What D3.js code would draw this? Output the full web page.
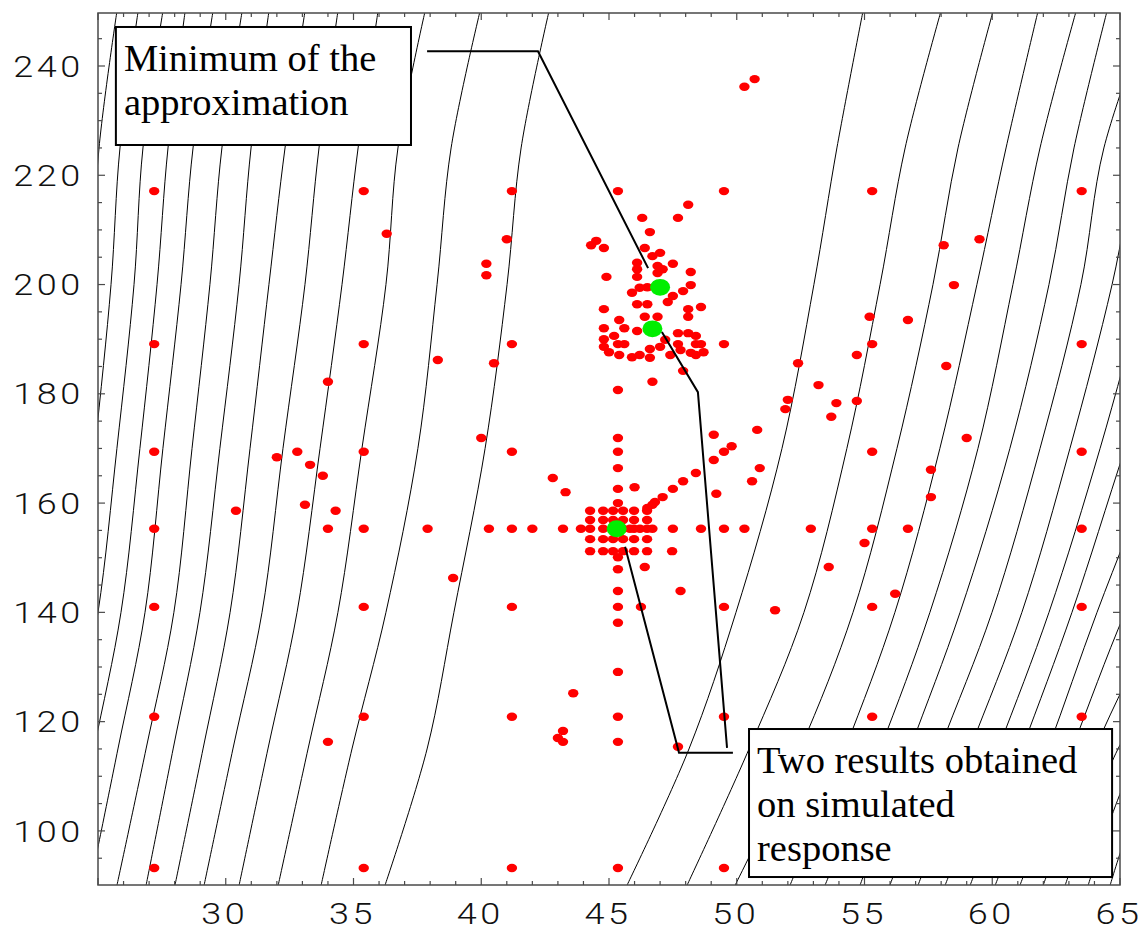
<!DOCTYPE html>
<html>
<head>
<meta charset="utf-8">
<script src="https://cdn.jsdelivr.net/npm/d3@7"></script>
<style>
  body { margin: 0; background: #fff; }
  svg { display: block; }
</style>
</head>
<body>
<svg id="chart" width="1148" height="931"></svg>
<script>
// ---- plot range -------------------------------------------------------
const X_MIN = 25, X_MAX = 65;
const Y_MIN = 90.1, Y_MAX = 249.7;

// ---- tick labels ------------------------------------------------------
const xTickLabels = [30, 35, 40, 45, 50, 55, 60, 65];
const yTickLabels = [100, 120, 140, 160, 180, 200, 220, 240];

// ---- experimental design: 7 x 7 grid ------------------------------------
const gridX = [27.2, 35.4, 41.2, 45.35, 49.5, 55.3, 63.5];
const gridY = [217.1, 189.1, 169.4, 155.3, 141.0, 120.9, 93.2];

// points along the horizontal line through the centre (y = 155.3)
const axialRowY = 155.3;
const axialRowX = [34.0, 37.9, 40.3, 42.0, 43.2, 43.9, 46.7, 47.5, 48.6, 50.3, 52.9, 56.7];

// points along the vertical line through the centre (x = 45.35)
const axialColX = 45.35;
const axialColY = [180.7, 171.9, 166.4, 162.6, 160.0, 150.1, 147.9, 143.9, 138.1, 129.1, 116.3];

// dense local grid around the lower minimum
const clusterX = [44.26, 44.77, 45.16, 45.55, 45.98, 46.49];
const clusterY = [158.6, 156.9, 155.3, 153.4, 151.2];

// remaining evaluated points
const scatterPoints = [
  [36.3,209.3],[50.7,237.6],[50.3,236.2],[48.1,214.6],[46.3,212.2],[47.7,212.2],[46.6,209.6],
  [41.0,208.3],[44.3,207.2],[44.5,208.0],[44.8,206.7],[46.4,206.7],[46.7,205.2],[47.0,205.8],
  [40.2,203.8],[40.2,201.7],[46.1,204.0],[46.1,202.8],[46.9,203.4],[47.1,202.8],[47.5,203.8],
  [48.2,202.3],[44.9,201.4],[46.1,201.4],[46.9,202.1],[46.5,199.5],[46.2,199.4],[48.2,199.9],
  [47.9,198.8],[45.9,198.5],[47.5,197.9],[47.3,196.8],[44.8,195.5],[46.1,196.4],[46.5,196.4],
  [48.1,195.5],[48.6,195.9],[48.1,194.1],[45.4,193.5],[45.6,192.0],[44.8,192.0],[46.4,194.1],
  [46.9,194.1],[46.1,191.5],[47.7,191.1],[48.1,191.1],[48.4,190.6],[44.8,190.0],[45.2,190.6],
  [45.6,189.1],[44.8,188.6],[45.0,187.6],[45.4,187.1],[45.9,186.7],[46.2,187.1],[46.6,188.2],
  [46.6,186.6],[47.0,188.6],[47.2,189.9],[47.4,187.1],[47.7,189.1],[47.8,188.0],[48.2,187.5],
  [48.4,187.1],[48.4,189.1],[48.6,189.1],[48.7,187.6],[47.9,184.2],[46.7,182.2],
  [38.3,186.2],[40.5,185.6],[52.4,185.6],[52.0,178.9],[51.9,177.2],[50.8,173.4],[49.1,172.5],
  [49.8,170.4],[49.1,167.9],[50.9,166.4],[50.6,164.0],[40.0,171.9],[42.8,164.6],[43.3,162.0],
  [46.0,162.9],[47.9,164.0],[48.4,165.5],[47.5,162.6],[47.1,161.1],[46.8,160.2],[49.2,161.7],
  [46.5,159.1],[46.7,159.7],[45.82,155.3],[46.21,155.3],[47.47,151.2],
  [38.9,146.3],[46.4,148.3],[47.8,143.9],[46.25,141.0],[51.5,140.4],[43.6,125.2],[43.2,118.3],
  [43.0,117.0],[43.2,116.3],[47.7,115.4],
  [34.0,182.2],[32.0,168.4],[32.8,169.4],[33.3,167.0],[33.8,165.0],[30.4,158.6],[33.1,159.7],
  [34.3,158.6],[34.0,116.3],
  [55.2,194.1],[56.7,193.5],[54.7,187.1],[53.2,181.6],[58.2,185.1],[53.9,178.3],[54.7,178.7],
  [53.7,175.8],[59.0,171.9],[57.6,166.1],[57.6,161.1],[55.0,152.7],[53.6,148.3],[56.2,143.4],
  [58.1,207.2],[59.5,208.3],[58.5,199.9]
];

// minima found
const minimaPoints = [[47.0, 199.5], [46.7, 191.9], [45.3, 155.3]];

// ---- contour lines of the response surface -----------------------------
// each line is given by its x value at the following y levels
const contourLevelsY = [250, 225, 200, 170, 140, 115, 90];
const contourLinesX = [
  [25.74, 25.04, 24.73, 24.37, 23.98, 23.51, 22.93],
  [26.57, 25.86, 25.51, 24.88, 24.22, 23.51, 22.73],
  [27.54, 26.76, 26.41, 25.74, 25.00, 23.98, 22.93],
  [28.41, 27.74, 27.31, 26.64, 25.90, 24.84, 23.75],
  [29.50, 28.72, 28.25, 27.54, 26.84, 25.78, 24.69],
  [30.64, 29.85, 29.38, 28.68, 27.97, 26.88, 25.74],
  [31.69, 30.99, 30.52, 29.77, 28.99, 27.94, 26.88],
  [33.10, 32.32, 31.69, 30.95, 30.17, 29.11, 28.01],
  [34.39, 33.65, 33.10, 32.24, 31.42, 30.28, 29.15],
  [35.96, 35.18, 34.55, 33.69, 32.79, 31.65, 30.52],
  [37.80, 36.74, 36.27, 35.33, 34.39, 33.22, 32.05],
  [39.95, 38.82, 38.27, 37.52, 36.27, 34.94, 33.73],
  [42.65, 41.56, 41.01, 40.15, 38.93, 37.88, 36.23],
  [54.94, 53.92, 53.02, 51.77, 49.97, 48.13, 45.70],
  [57.99, 56.59, 55.61, 54.31, 52.63, 50.48, 48.05],
  [60.03, 58.66, 57.68, 56.27, 54.55, 52.48, 49.93],
  [61.79, 60.54, 59.40, 57.95, 56.19, 54.24, 52.08],
  [63.28, 61.87, 60.81, 59.44, 57.56, 55.61, 53.45],
  [64.49, 63.20, 62.22, 60.69, 58.74, 56.78, 54.82],
  [66.17, 64.37, 63.47, 61.87, 59.99, 57.95, 55.99],
  [67.54, 65.78, 64.69, 63.04, 61.16, 59.13, 57.09],
  [69.31, 67.35, 65.98, 64.22, 62.22, 60.23, 58.15],
  [70.68, 68.72, 67.35, 65.20, 63.12, 61.16, 59.13],
  [72.05, 70.09, 68.72, 66.57, 64.10, 62.18, 60.11],
  [73.61, 71.65, 70.28, 68.13, 65.20, 63.12, 61.08],
  [75.18, 73.22, 71.85, 69.70, 66.57, 64.02, 61.99],
  [76.74, 74.78, 73.41, 71.26, 68.13, 64.92, 62.85],
  [78.31, 76.35, 74.98, 72.83, 69.50, 65.78, 63.75],
  [79.90, 77.90, 76.50, 74.40, 70.87, 66.64, 64.61]
];

// ---- annotations --------------------------------------------------------
const annotations = [
  { lines: ["Minimum of the", "approximation"], box: [25.70, 247.14, 37.25, 225.54] },
  { lines: ["Two results obtained", "on simulated", "response"], box: [50.48, 118.65, 64.69, 91.56] }
];
const leaderLines = [
  [[37.88, 242.7], [42.22, 242.7], [46.53, 203.0]],
  [[47.07, 191.3], [48.48, 180.3], [49.62, 115.2]],
  [[45.63, 152.0], [47.74, 114.3], [49.85, 114.3]]
];

// ---- scales -------------------------------------------------------------
const x = d3.scaleLinear().domain([X_MIN, X_MAX]).range([98, 1120]);
const y = d3.scaleLinear().domain([Y_MIN, Y_MAX]).range([885, 13]);

const svg = d3.select("#chart");
svg.append("defs").append("clipPath").attr("id", "plotClip")
  .append("rect")
  .attr("x", x(X_MIN)).attr("y", y(Y_MAX))
  .attr("width", x(X_MAX) - x(X_MIN)).attr("height", y(Y_MIN) - y(Y_MAX));

// ---- contour lines -------------------------------------------------------
const contourPath = d3.line()
  .x(d => x(d[0])).y(d => y(d[1]))
  .curve(d3.curveCatmullRom.alpha(0.5));

svg.append("g").attr("clip-path", "url(#plotClip)")
  .selectAll("path").data(contourLinesX).join("path")
  .attr("d", xs => contourPath(xs.map((v, i) => [v, contourLevelsY[i]])))
  .attr("fill", "none").attr("stroke", "#000").attr("stroke-width", 1);

// ---- evaluated points ------------------------------------------------------
const designPoints = [];
gridX.forEach(gx => gridY.forEach(gy => designPoints.push([gx, gy])));
axialRowX.forEach(v => designPoints.push([v, axialRowY]));
axialColY.forEach(v => designPoints.push([axialColX, v]));
clusterX.forEach(cx => clusterY.forEach(cy => designPoints.push([cx, cy])));
scatterPoints.forEach(p => designPoints.push(p));

svg.append("g").selectAll("ellipse").data(designPoints).join("ellipse")
  .attr("cx", d => x(d[0])).attr("cy", d => y(d[1]))
  .attr("rx", 5.2).attr("ry", 4.2)
  .attr("fill", "#ff0000");

svg.append("g").selectAll("ellipse").data(minimaPoints).join("ellipse")
  .attr("cx", d => x(d[0])).attr("cy", d => y(d[1]))
  .attr("rx", 10).attr("ry", 8.4)
  .attr("fill", "#00ee00");

// ---- leader lines ------------------------------------------------------------
const straight = d3.line().x(d => x(d[0])).y(d => y(d[1]));
svg.append("g").selectAll("path").data(leaderLines).join("path")
  .attr("d", straight)
  .attr("fill", "none").attr("stroke", "#000").attr("stroke-width", 2);

// ---- annotation boxes -----------------------------------------------------------
const ann = svg.append("g").selectAll("g").data(annotations).join("g");
ann.append("rect")
  .attr("x", d => x(d.box[0])).attr("y", d => y(d.box[1]))
  .attr("width", d => x(d.box[2]) - x(d.box[0]))
  .attr("height", d => y(d.box[3]) - y(d.box[1]))
  .attr("fill", "#fff").attr("stroke", "#000").attr("stroke-width", 2);
ann.each(function (d) {
  const g = d3.select(this);
  d.lines.forEach((t, i) => {
    g.append("text")
      .attr("x", x(d.box[0]) + 8)
      .attr("y", y(d.box[1]) + 44 + i * 44)
      .attr("font-family", "'Liberation Serif', 'Times New Roman', serif")
      .attr("font-size", 38.5)
      .attr("fill", "#000")
      .text(t);
  });
});

// ---- frame and ticks -------------------------------------------------------------
const frameColor = "#4a4a4a";
svg.append("rect")
  .attr("x", x(X_MIN)).attr("y", y(Y_MAX))
  .attr("width", x(X_MAX) - x(X_MIN)).attr("height", y(Y_MIN) - y(Y_MAX))
  .attr("fill", "none").attr("stroke", frameColor).attr("stroke-width", 1.5);

const xTicks = d3.range(X_MIN, X_MAX + 0.5, 1);
const yTicks = d3.range(95, 250, 5);
const ticks = svg.append("g").attr("stroke", frameColor).attr("stroke-width", 1.2);
xTicks.forEach(v => {
  const len = v % 5 === 0 ? 7 : 4;
  ticks.append("line").attr("x1", x(v)).attr("x2", x(v)).attr("y1", y(Y_MIN)).attr("y2", y(Y_MIN) - len);
  ticks.append("line").attr("x1", x(v)).attr("x2", x(v)).attr("y1", y(Y_MAX)).attr("y2", y(Y_MAX) + len);
});
yTicks.forEach(v => {
  const len = v % 20 === 0 ? 7 : 4;
  ticks.append("line").attr("x1", x(X_MIN)).attr("x2", x(X_MIN) + len).attr("y1", y(v)).attr("y2", y(v));
  ticks.append("line").attr("x1", x(X_MAX)).attr("x2", x(X_MAX) - len).attr("y1", y(v)).attr("y2", y(v));
});

// ---- tick labels -------------------------------------------------------------------
const labelFont = "Roboto, 'Liberation Sans', sans-serif";
svg.append("g").selectAll("text").data(xTickLabels).join("text")
  .attr("transform", d => `translate(${x(d) - 1},924) scale(1.22,1)`)
  .attr("text-anchor", "middle")
  .attr("font-family", labelFont).attr("font-weight", 300)
  .attr("font-size", 29.5).attr("letter-spacing", 3).attr("fill", "#111")
  .text(d => d);
svg.append("g").selectAll("text").data(yTickLabels).join("text")
  .attr("transform", d => `translate(84,${y(d) + 10.6}) scale(1.22,1)`)
  .attr("text-anchor", "end")
  .attr("font-family", labelFont).attr("font-weight", 300)
  .attr("font-size", 29.5).attr("letter-spacing", 3).attr("fill", "#111")
  .text(d => d);
</script>
</body>
</html>
